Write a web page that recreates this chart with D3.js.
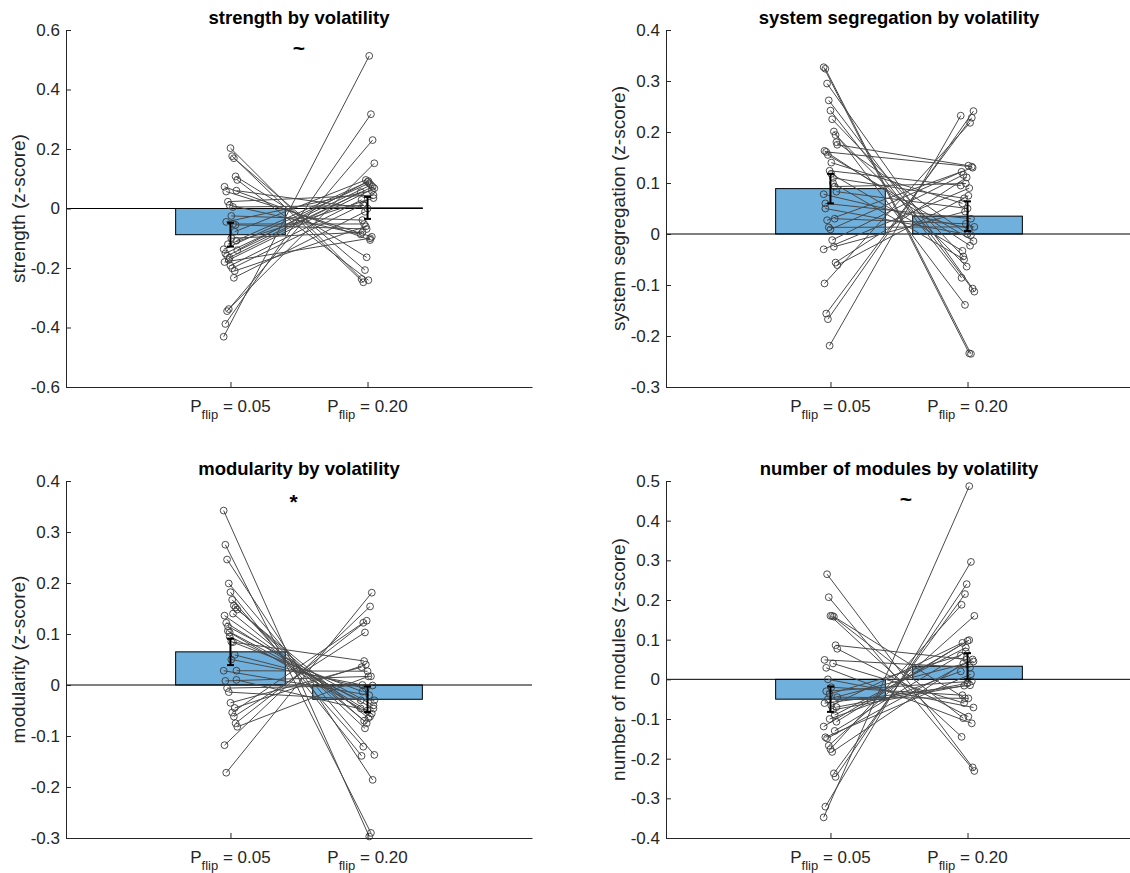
<!DOCTYPE html>
<html><head><meta charset="utf-8">
<script src="https://cdn.jsdelivr.net/npm/d3@7"></script>
<style>body{margin:0;background:#fff}svg{display:block;font-family:"Liberation Sans",Arial,Helvetica,sans-serif}</style>
</head><body><svg id="c" width="1130" height="873"></svg>
<script>
// ---------- data ----------
const categories = [1, 2];
const conditionLabels = [["P", "flip", " = 0.05"], ["P", "flip", " = 0.20"]];

const titles = ["strength by volatility", "system segregation by volatility",
                "modularity by volatility", "number of modules by volatility"];
const yLabels = ["strength (z-score)", "system segregation (z-score)",
                 "modularity (z-score)", "number of modules (z-score)"];
const yDomains = [[-0.6, 0.6], [-0.3, 0.4], [-0.3, 0.4], [-0.4, 0.5]];
const yTicks1 = [-0.6, -0.4, -0.2, 0, 0.2, 0.4, 0.6];
const yTicks2 = [-0.3, -0.2, -0.1, 0, 0.1, 0.2, 0.3, 0.4];
const yTicks3 = [-0.3, -0.2, -0.1, 0, 0.1, 0.2, 0.3, 0.4];
const yTicks4 = [-0.4, -0.3, -0.2, -0.1, 0, 0.1, 0.2, 0.3, 0.4, 0.5];

// bar means and standard errors [P=0.05, P=0.20]
const strengthMean = [-0.088, 0.002], strengthSem = [0.040, 0.037];
const segregationMean = [0.089, 0.035], segregationSem = [0.029, 0.029];
const modularityMean = [0.065, -0.028], modularitySem = [0.026, 0.025];
const modulesMean = [-0.050, 0.033], modulesSem = [0.032, 0.033];

// per-subject values (paired by index)
const strengthLow = [-0.431, -0.388, -0.345, -0.338, 0.203, 0.176, 0.169, 0.108, 0.096, 0.073, 0.057, 0.023, 0.011, -0.025,
  -0.052, -0.078, -0.108, -0.137, -0.151, -0.159, -0.173, -0.192, -0.201, -0.233, -0.055, -0.140, -0.180, -0.045,
  -0.120, -0.165, -0.100, 0.005, -0.210, 0.060];
const strengthHigh = [0.513, 0.317, 0.230, 0.152, -0.237, -0.248, -0.207, -0.164, -0.241, -0.106, -0.095, 0.045, -0.087, -0.039,
  -0.052, 0.096, 0.089, 0.085, 0.079, 0.073, 0.068, 0.029, 0.014, -0.011, -0.069, 0.092, -0.100, 0.060,
  0.035, 0.055, -0.080, 0.010, -0.060, 0.000];

const segregationLow = [0.327, 0.324, 0.295, 0.262, 0.242, 0.225, 0.201, 0.194, 0.175, 0.163, 0.161, 0.155, 0.124, 0.118, 0.110,
  0.093, 0.083, 0.078, 0.050, 0.027, 0.013, 0.009, -0.012, -0.025, -0.056, -0.061, -0.097, -0.156, -0.167, -0.219,
  0.140, 0.100, 0.030, 0.180, -0.030, 0.060];
const segregationHigh = [-0.234, -0.235, -0.107, -0.113, -0.086, -0.044, -0.139, -0.064, 0.134, -0.023, 0.132, -0.014, 0.095, -0.033, 0.070,
  0.099, 0.050, 0.011, -0.002, 0.130, 0.014, 0.122, 0.116, 0.044, 0.111, 0.075, 0.218, 0.228, 0.241, 0.232,
  0.060, -0.050, 0.020, 0.000, 0.090, 0.030];

const modularityLow = [0.342, 0.275, 0.246, 0.199, 0.182, 0.167, 0.156, 0.152, 0.148, 0.136, 0.122, 0.106, 0.103, 0.085,
  0.084, 0.059, 0.028, 0.028, 0.008, -0.006, -0.014, -0.035, -0.054, -0.062, -0.075, -0.082, -0.118, -0.172,
  0.115, 0.095, 0.050, 0.140, -0.045, 0.010];
const modularityHigh = [-0.297, -0.290, -0.186, -0.137, -0.139, -0.121, -0.085, -0.075, -0.065, -0.062, -0.056, -0.046, -0.046, -0.013,
  0.047, -0.007, 0.027, -0.020, 0.017, -0.001, -0.030, 0.035, 0.122, 0.103, 0.126, 0.017, 0.154, 0.181,
  -0.040, -0.030, 0.000, -0.070, 0.040, -0.050];

const modulesLow = [-0.348, -0.321, 0.265, 0.207, 0.160, 0.160, 0.158, 0.086, 0.077, 0.049, 0.029, 0.000, -0.037, -0.066,
  -0.077, -0.090, -0.107, -0.119, -0.146, -0.149, -0.167, -0.176, -0.183, -0.237, -0.246, -0.045, -0.060, -0.030,
  -0.050, -0.100, -0.020, 0.040, -0.130, -0.070];
const modulesHigh = [0.487, 0.296, -0.222, -0.231, -0.145, -0.098, -0.048, 0.050, -0.094, 0.030, -0.111, -0.071, 0.060, 0.092,
  -0.016, 0.080, 0.097, 0.099, 0.013, 0.050, 0.160, 0.188, 0.040, 0.215, 0.240, -0.048, -0.015, -0.005,
  0.045, 0.020, -0.040, -0.060, 0.070, -0.010];

const sigMarks = ["~", "", "*", "~"];
const sigX = [1.5, 1.5, 1.46, 1.55];
const sigY = [0.536, 0, 0.356, 0.452];

// ---------- layout ----------
const panels = [
  {low: strengthLow, high: strengthHigh, mean: strengthMean, sem: strengthSem, ticks: yTicks1, x0: 66, x1: 532, y0: 30, y1: 387},
  {low: segregationLow, high: segregationHigh, mean: segregationMean, sem: segregationSem, ticks: yTicks2, x0: 666, x1: 1132, y0: 30, y1: 387},
  {low: modularityLow, high: modularityHigh, mean: modularityMean, sem: modularitySem, ticks: yTicks3, x0: 66, x1: 532, y0: 481, y1: 838},
  {low: modulesLow, high: modulesHigh, mean: modulesMean, sem: modulesSem, ticks: yTicks4, x0: 666, x1: 1132, y0: 481, y1: 838}
];

const svg = d3.select("#c");
const axisColor = "#262626";
const barColor = "#70b0dc";
const fmt = v => (Math.abs(v) < 1e-9 ? "0" : v.toFixed(1));
const jitter = i => (((i * 53) % 17) - 8) * 0.85;

panels.forEach((p, k) => {
  const x = d3.scaleLinear().domain([-0.2, 3.2]).range([p.x0, p.x1]);
  const y = d3.scaleLinear().domain(yDomains[k]).range([p.y1, p.y0]);
  const g = svg.append("g");
  const bw = x(0.8) - x(0);

  // bars
  g.selectAll("rect.bar").data(categories).join("rect")
    .attr("x", c => x(c) - bw / 2)
    .attr("width", bw)
    .attr("y", (c, i) => Math.min(y(p.mean[i]), y(0)))
    .attr("height", (c, i) => Math.abs(y(p.mean[i]) - y(0)))
    .attr("fill", barColor).attr("stroke", "#000").attr("stroke-width", 1);

  // baseline
  g.append("line").attr("x1", p.x0).attr("x2", k === 0 ? x(2.4) : p.x1)
    .attr("y1", y(0)).attr("y2", y(0)).attr("stroke", "#000").attr("stroke-width", 1);

  // paired lines
  const pairs = p.low.map((v, i) => ({i, a: v, b: p.high[i]}));
  g.selectAll("line.pair").data(pairs).join("line")
    .attr("x1", d => x(1) + jitter(d.i)).attr("y1", d => y(d.a))
    .attr("x2", d => x(2) + jitter(d.i + 5)).attr("y2", d => y(d.b))
    .attr("stroke", "#4a4a4a").attr("stroke-width", 1);
  const pts = pairs.flatMap(d => [{x: x(1) + jitter(d.i), v: d.a}, {x: x(2) + jitter(d.i + 5), v: d.b}]);
  g.selectAll("circle.pt").data(pts).join("circle")
    .attr("cx", d => d.x).attr("cy", d => y(d.v)).attr("r", 3.4)
    .attr("fill", "none").attr("stroke", "#3a3a3a").attr("stroke-width", 0.9);

  // error bars
  categories.forEach((c, i) => {
    const cx = x(c), top = y(p.mean[i] + p.sem[i]), bot = y(p.mean[i] - p.sem[i]);
    g.append("line").attr("x1", cx).attr("x2", cx).attr("y1", top).attr("y2", bot).attr("stroke", "#000").attr("stroke-width", 2);
    [top, bot].forEach(yy => g.append("line").attr("x1", cx - 3.5).attr("x2", cx + 3.5).attr("y1", yy).attr("y2", yy)
      .attr("stroke", "#000").attr("stroke-width", 2));
  });

  // axes
  const ya = d3.axisLeft(y).tickValues(p.ticks).tickFormat(fmt).tickSizeInner(-5).tickSizeOuter(0).tickPadding(6);
  const yg = g.append("g").attr("transform", `translate(${p.x0},0)`).call(ya);
  const xa = d3.axisBottom(x).tickValues(categories).tickFormat("").tickSizeInner(-5).tickSizeOuter(0);
  const xg = g.append("g").attr("transform", `translate(0,${p.y1})`).call(xa);
  [yg, xg].forEach(a => {
    a.select(".domain").attr("stroke", axisColor);
    a.selectAll(".tick line").attr("stroke", axisColor);
  });
  yg.selectAll(".tick text").attr("fill", axisColor).style("font-size", "17px")
    .style("font-family", '"Liberation Sans",Arial,sans-serif');

  // x tick labels with subscript
  categories.forEach((c, i) => {
    const t = g.append("text").attr("x", x(c)).attr("y", p.y1 + 25).attr("text-anchor", "middle")
      .attr("fill", axisColor).style("font-size", "17px");
    t.append("tspan").text(conditionLabels[i][0]);
    t.append("tspan").attr("dy", 7).style("font-size", "13px").text(conditionLabels[i][1]);
    t.append("tspan").attr("dy", -7).text(conditionLabels[i][2]);
  });

  // title
  g.append("text").attr("x", (p.x0 + p.x1) / 2).attr("y", p.y0 - 6).attr("text-anchor", "middle")
    .attr("fill", "#000").style("font-size", "18.5px").style("font-weight", "bold").text(titles[k]);

  // y label
  g.append("text").attr("transform", `translate(${p.x0 - 41},${(p.y0 + p.y1) / 2}) rotate(-90)`)
    .attr("text-anchor", "middle").attr("fill", axisColor).style("font-size", "19px").text(yLabels[k]);

  // significance
  if (sigMarks[k]) {
    g.append("text").attr("x", x(sigX[k])).attr("y", y(sigY[k])).attr("text-anchor", "middle")
      .attr("dominant-baseline", "middle").attr("fill", "#000").style("font-size", "21px").style("font-weight", "bold")
      .text(sigMarks[k]);
  }
});
</script></body></html>
